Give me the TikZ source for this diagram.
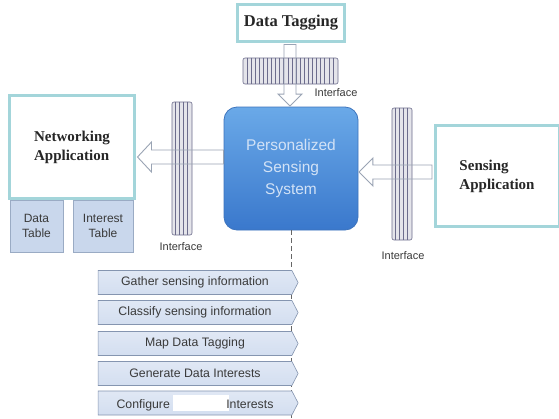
\documentclass[tikz,border=0pt]{standalone}
\usepackage{fontspec}
\setmainfont{Liberation Serif}
\setsansfont{Liberation Sans}
\usetikzlibrary{shapes.symbols,calc}
\definecolor{tealb}{HTML}{A3D5DA}
\definecolor{tabfill}{HTML}{C9D7EC}
\definecolor{tabline}{HTML}{9AABC4}
\definecolor{psstop}{HTML}{6AA9E8}
\definecolor{pssbot}{HTML}{3A78CC}
\definecolor{pssline}{HTML}{3D74BD}
\definecolor{psstext}{HTML}{D2E2F6}
\definecolor{chevfill}{HTML}{D3DEF0}
\definecolor{chevline}{HTML}{8595B0}
\definecolor{barfill}{HTML}{E4E4EA}
\definecolor{barline}{HTML}{6C6C8C}
\definecolor{arrline}{HTML}{9AA4B4}
\definecolor{labtext}{HTML}{3A3A3A}
\begin{document}
\begin{tikzpicture}[x=1pt,y=-1pt,
  appbox/.style={draw=tealb,line width=3pt,fill=white,inner sep=0pt,
    font=\fontsize{15}{19}\selectfont\bfseries,align=left,text=black!85},
  tablebox/.style={draw=tabline,fill=tabfill,line width=0.6pt,align=center,
    font=\sffamily\fontsize{12}{15}\selectfont,text=labtext,inner sep=0pt},
  ifbar/.style={draw=barline,fill=barfill,line width=0.6pt,rounded corners=2pt,inner sep=0pt},
  ifline/.style={draw=barline,line width=0.5pt},
  iflabel/.style={font=\sffamily\fontsize{11}{13}\selectfont,text=labtext},
  hollow/.style={draw=arrline,line width=0.9pt,line join=miter},
  chev/.style={signal,signal to=east,signal pointer angle=125,draw=chevline,
    top color=chevfill!70!white,bottom color=chevfill,line width=0.6pt,
    minimum width=200pt,minimum height=24pt,inner sep=0pt,
    font=\sffamily\fontsize{12.3}{14}\selectfont,text=labtext}]
\useasboundingbox (0,0) rectangle (559,418);
\fill[white] (0,0) rectangle (559,418);

% Boxes
\node[appbox,minimum width=107pt,minimum height=37pt,font=\fontsize{16.5}{19}\selectfont\bfseries] (dt) at (291,23) {Data Tagging};
\node[appbox,minimum width=125pt,minimum height=103pt] (na) at (72,147) {Networking\\Application\hspace{6pt}};
\node[tablebox,minimum width=53pt,minimum height=52pt] (dtab) at (36.5,226) {Data\\Table};
\node[tablebox,minimum width=60pt,minimum height=52pt] (itab) at (103,226) {Interest\\Table};
\node[appbox,minimum width=124pt,minimum height=101pt] (sa) at (497,176) {Sensing\\Application};

% Interfaces
\node[ifbar,minimum width=95pt,minimum height=26pt] (ti) at (290.5,71) {};
\foreach \i in {1,...,22} \draw[ifline] ($(ti.north west)+(\i*4.1,0)$) -- ($(ti.south west)+(\i*4.1,0)$);
\node[ifbar,minimum width=20pt,minimum height=133pt] (li) at (182,168.5) {};
\foreach \i in {1,...,4} \draw[ifline] ($(li.north west)+(\i*4,0)$) -- ($(li.south west)+(\i*4,0)$);
\node[ifbar,minimum width=20pt,minimum height=132pt] (ri) at (402,174) {};
\foreach \i in {1,...,4} \draw[ifline] ($(ri.north west)+(\i*4,0)$) -- ($(ri.south west)+(\i*4,0)$);
\node[iflabel] (til) at (336,93) {Interface};
\node[iflabel] (lil) at (181,247) {Interface};
\node[iflabel] (ril) at (403,256) {Interface};

% Central system
\node[draw=pssline,line width=0.8pt,rounded corners=13pt,top color=psstop,bottom color=pssbot,
  minimum width=134pt,minimum height=123pt,align=center,text=psstext,
  font=\sffamily\fontsize{15.5}{22}\selectfont] (pss) at (291,168.5) {Personalized\\Sensing\\System};

% Hollow arrows
\coordinate (la) at ($(na.east)+(1.5,10)$);
\draw[hollow] (la) -- ++(14,-15) -- ++(0,8) -- ($(pss.west |- la)+(0,-7)$) -- ++(0,14) -- ($(la)+(14,7)$) -- ++(0,8) -- cycle;
\coordinate (ra) at ($(pss.east)+(0.5,3.5)$);
\draw[hollow] (ra) -- ++(14,-14) -- ++(0,7) -- ($(sa.west |- ra)+(-1.5,-7)$) -- ++(0,14) -- ($(ra)+(14,7)$) -- ++(0,7) -- cycle;
\coordinate (ta) at ($(pss.north)+(-1,-0.5)$);
\draw[hollow] (ta) -- ++(-12,-12) -- ++(6,0) -- ($(dt.south -| ta)+(-6,1.5)$) -- ++(12,0) -- ($(ta)+(6,-12)$) -- ++(6,0) -- cycle;

% Dashed line
\coordinate (dend) at (pss.south |- 0,418);
\draw[dashed,draw=black!60,line width=0.9pt,dash pattern=on 5pt off 3pt] (pss.south) -- (dend);

% Steps
\node[chev] (s1) at (195,282.5) {Gather sensing information};
\node[chev] (s2) at (195,312.5) {Classify sensing information};
\node[chev] (s3) at (195,343.5) {Map Data Tagging};
\node[chev] (s4) at (195,373.5) {Generate Data Interests};
\node[chev] (s5) at (195,403) {Configure \colorbox{white}{\rule{0pt}{10pt}\hspace{50pt}}\hspace{-3pt}Interests};
\end{tikzpicture}
\end{document}
